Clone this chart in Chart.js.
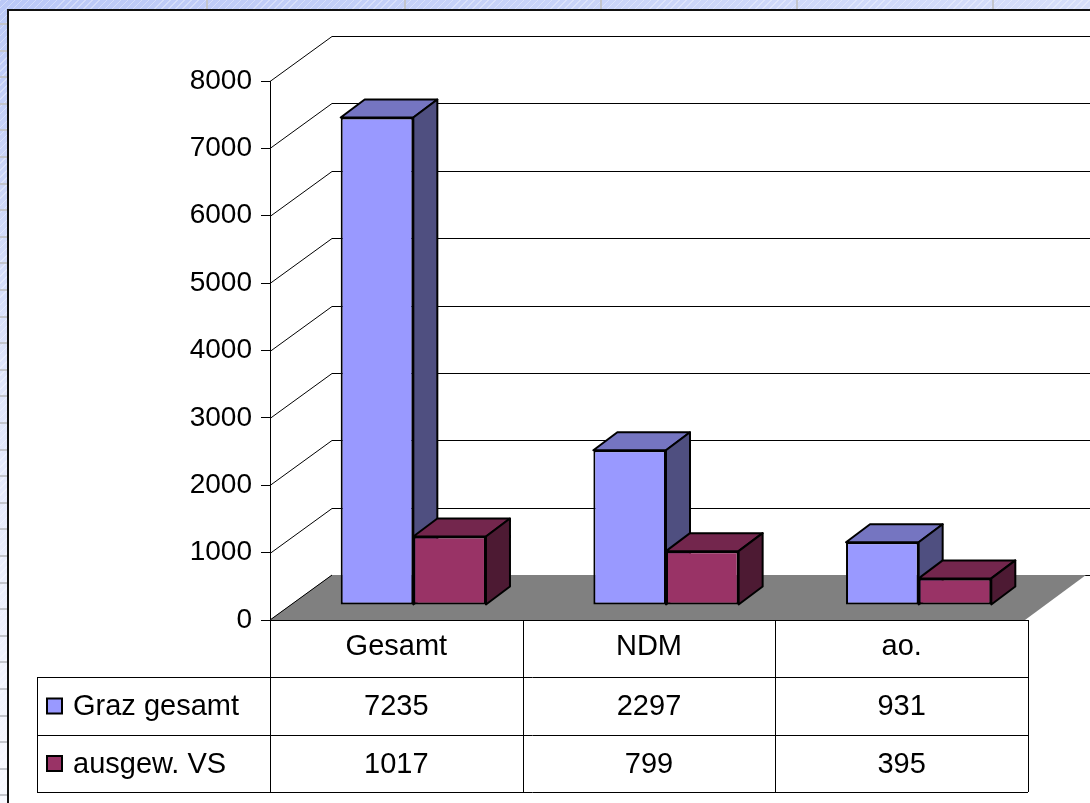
<!DOCTYPE html>
<html>
<head>
<meta charset="utf-8">
<title>Graz gesamt / ausgew. VS</title>
<script src="https://cdn.jsdelivr.net/npm/chart.js@4.4.1/dist/chart.umd.min.js"></script>
<style>
    body { margin: 0; }
    #page {
        position: relative; width: 1090px; height: 803px; overflow: hidden;
        background:
            repeating-linear-gradient(135deg, rgba(255,255,255,0.35) 0 1px, transparent 1px 5px),
            linear-gradient(165deg, #bac8f7 0%, #dfe5fb 35%, #f6f7fe 70%, #ffffff 100%);
    }
    #topStrip {
        position: absolute; left: 0; top: 0; width: 1090px; height: 10px;
        background-image:
            linear-gradient(#c3c5cc, #c3c5cc), linear-gradient(#c3c5cc, #c3c5cc),
            linear-gradient(#c3c5cc, #c3c5cc), linear-gradient(#c3c5cc, #c3c5cc),
            linear-gradient(#c3c5cc, #c3c5cc);
        background-size: 2px 10px;
        background-repeat: no-repeat;
        background-position: 206px 0, 404px 0, 600px 0, 796px 0, 992px 0;
    }
    #leftStrip {
        position: absolute; left: 0; top: 0; width: 8px; height: 803px;
        background: repeating-linear-gradient(to bottom, transparent 0 23px, #c3c5cc 23px 25px, transparent 25px 26.6px);
    }
    #box {
        position: absolute; left: 7px; top: 9px; right: 0; bottom: 0;
        background: #fff; border-left: 2px solid #111; border-top: 2px solid #111;
    }
    #myChart { position: absolute; left: 0; top: 0; }
</style>
</head>
<body>
<div id="page">
    <div id="topStrip"></div>
    <div id="leftStrip"></div>
    <div id="box"></div>
    <canvas id="myChart" width="1090" height="803"></canvas>
</div>
<script>
const categories = ['Gesamt', 'NDM', 'ao.'];
const grazGesamt = [7235, 2297, 931];
const ausgewVS = [1017, 799, 395];
const seriesNames = ['Graz gesamt', 'ausgew. VS'];
const yTicks = [0, 1000, 2000, 3000, 4000, 5000, 6000, 7000, 8000];

const FONT = '"Liberation Sans", Arial, sans-serif';
Chart.defaults.font.family = FONT;
Chart.defaults.color = '#000';

// front, top, side
const blueShades = ['#9999FF', '#7575C1', '#4F4F80'];
const redShades = ['#993366', '#73264D', '#4D1A33'];
const shades = [blueShades, redShades];

// oblique offsets of the fake 3d box
const WALL = { dx: 62, dy: -45 };       // front axis -> back wall
const BAR_SHIFT = { dx: 17, dy: -15 };  // front axis -> front face of bars
const BAR_DEPTH = { dx: 24, dy: -18 };

function poly(ctx, pts, fill, stroke) {
    ctx.beginPath();
    ctx.moveTo(pts[0][0], pts[0][1]);
    for (let i = 1; i < pts.length; i++) ctx.lineTo(pts[i][0], pts[i][1]);
    ctx.closePath();
    if (fill) { ctx.fillStyle = fill; ctx.fill(); }
    if (stroke) { ctx.strokeStyle = stroke; ctx.stroke(); }
}

const box3d = {
    id: 'box3d',
    beforeDatasetsDraw(chart) {
        const { ctx, chartArea: a, scales: { y } } = chart;
        ctx.save();

        // side wall + back wall gridlines
        ctx.lineWidth = 1;
        ctx.strokeStyle = '#000';
        yTicks.forEach(v => {
            const py = Math.round(y.getPixelForValue(v)) + 0.5;
            ctx.beginPath();
            ctx.moveTo(a.left, py);
            ctx.lineTo(a.left + WALL.dx, py + WALL.dy);
            ctx.lineTo(a.right + WALL.dx, py + WALL.dy);
            ctx.stroke();
        });

        // floor
        const y0 = y.getPixelForValue(0);
        poly(ctx, [[a.left, y0], [a.left + WALL.dx, y0 + WALL.dy],
                   [a.right + WALL.dx - 4, y0 + WALL.dy], [a.right - 3, y0]], '#808080');
        ctx.beginPath();
        ctx.moveTo(a.left, y0);
        ctx.lineTo(a.left + WALL.dx, y0 + WALL.dy);
        ctx.stroke();

        // bars, category by category so the faces overlap right
        const metas = chart.getSortedVisibleDatasetMetas();
        ctx.translate(BAR_SHIFT.dx, BAR_SHIFT.dy);
        ctx.lineWidth = 2;
        ctx.lineJoin = 'round';
        categories.forEach((c, i) => {
            metas.forEach((meta, d) => {
                const bar = meta.data[i];
                const { x, y: top, base, width } = bar.getProps(['x', 'y', 'base', 'width'], true);
                const l = x - width / 2, r = x + width / 2;
                bar.draw(ctx);
                poly(ctx, [[l, top], [l + BAR_DEPTH.dx, top + BAR_DEPTH.dy],
                           [r + BAR_DEPTH.dx, top + BAR_DEPTH.dy], [r, top]], shades[d][1], '#000');
                poly(ctx, [[r, top], [r + BAR_DEPTH.dx, top + BAR_DEPTH.dy],
                           [r + BAR_DEPTH.dx, base + BAR_DEPTH.dy], [r, base]], shades[d][2], '#000');
            });
        });
        ctx.restore();
        return false;
    },
    afterDraw(chart) {
        // data table under the chart
        const { ctx, chartArea: a, scales: { x } } = chart;
        const rows = [620, 677, 735, 792];
        const legendLeft = 37;
        const colW = (a.right - a.left) / categories.length;

        ctx.save();
        ctx.strokeStyle = '#000';
        ctx.lineWidth = 1;
        ctx.beginPath();
        ctx.moveTo(a.left, rows[0] + 0.5);
        ctx.lineTo(a.right, rows[0] + 0.5);
        for (let r = 1; r < rows.length; r++) {
            ctx.moveTo(legendLeft, rows[r] + 0.5);
            ctx.lineTo(a.right, rows[r] + 0.5);
        }
        for (let c = 0; c <= categories.length; c++) {
            const px = Math.round(a.left + c * colW) + 0.5;
            ctx.moveTo(px, rows[0]);
            ctx.lineTo(px, rows[3]);
        }
        ctx.moveTo(legendLeft + 0.5, rows[1]);
        ctx.lineTo(legendLeft + 0.5, rows[3]);
        ctx.stroke();

        ctx.font = '29px ' + FONT;
        ctx.fillStyle = '#000';
        ctx.textAlign = 'center';
        categories.forEach((c, i) => ctx.fillText(c, x.getPixelForValue(i), rows[0] + 35));

        chart.data.datasets.forEach((ds, d) => {
            const baseLine = rows[d + 1] + 38;
            ctx.textAlign = 'center';
            ctx.fillStyle = '#000';
            ds.data.forEach((v, i) => ctx.fillText(String(v), x.getPixelForValue(i), baseLine));
            // legend key
            const mid = (rows[d + 1] + rows[d + 2]) / 2;
            ctx.fillStyle = ds.backgroundColor;
            ctx.fillRect(47, mid - 7.5, 15, 15);
            ctx.lineWidth = 2;
            ctx.strokeRect(47, mid - 7.5, 15, 15);
            ctx.fillStyle = '#000';
            ctx.textAlign = 'left';
            ctx.fillText(ds.label, 73, baseLine);
        });
        ctx.restore();
    }
};

var ctx = document.getElementById('myChart').getContext('2d');

var myChart = new Chart(ctx, {
    type: 'bar',
    data: {
        labels: categories,
        datasets: [{
            label: seriesNames[0],
            data: grazGesamt,
            backgroundColor: blueShades[0]
        }, {
            label: seriesNames[1],
            data: ausgewVS,
            backgroundColor: redShades[0]
        }]
    },
    options: {
        responsive: false,
        animation: false,
        devicePixelRatio: 1,
        layout: { padding: { top: 81, right: 62, bottom: 183, left: 0 } },
        datasets: {
            bar: {
                categoryPercentage: 0.575,
                barPercentage: 1,
                borderColor: '#000',
                borderWidth: 2,
                borderSkipped: false
            }
        },
        plugins: {
            legend: { display: false },
            tooltip: { enabled: false }
        },
        scales: {
            x: { display: false },
            y: {
                min: 0,
                max: 8000,
                afterBuildTicks: s => { s.ticks = yTicks.map(v => ({ value: v })); },
                afterFit: s => { s.width = 270; },
                ticks: {
                    color: '#000',
                    font: { size: 28 },
                    padding: 9,
                    callback: v => String(v)
                },
                grid: { drawOnChartArea: false, drawTicks: true, tickLength: 9, color: '#000', lineWidth: 1 },
                border: { display: true, color: '#000', width: 1 }
            }
        }
    },
    plugins: [box3d]
});
</script>
</body>
</html>
